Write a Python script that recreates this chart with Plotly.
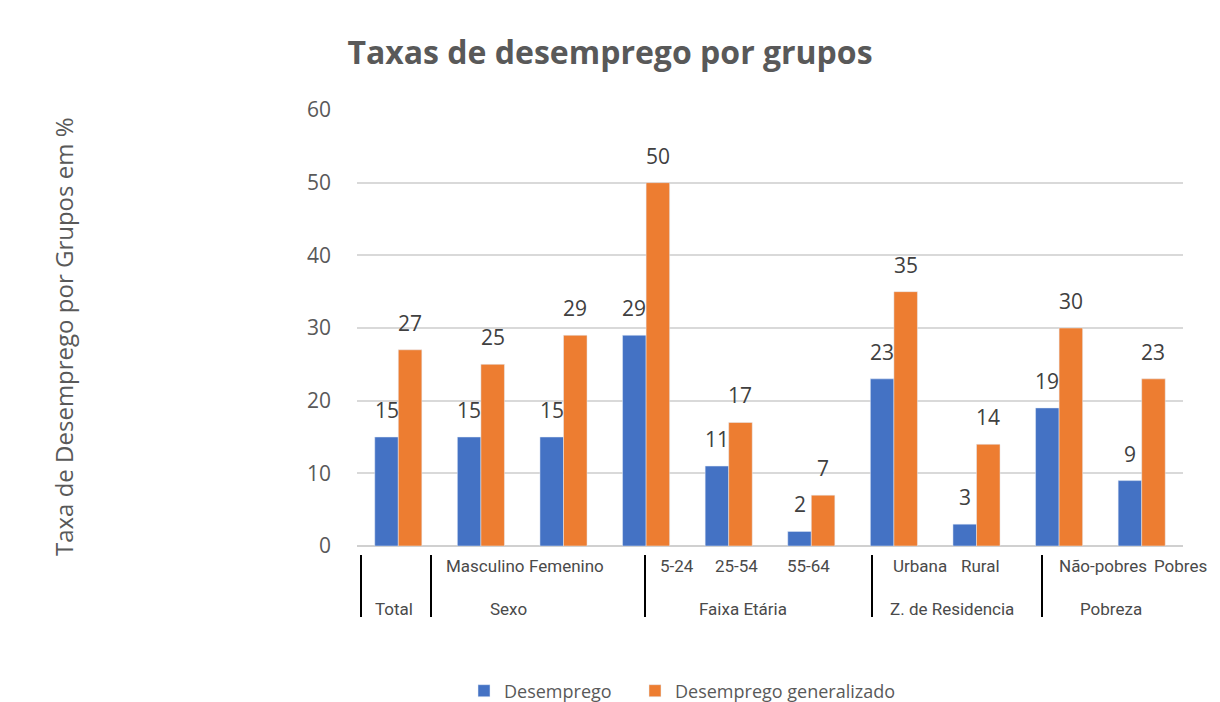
import plotly.graph_objects as go

categorias = ["Total", "Masculino", "Femenino", "5-24", "25-54", "55-64",
              "Urbana", "Rural", "Não-pobres", "Pobres"]
desemprego = [15, 15, 15, 29, 11, 2, 23, 3, 19, 9]
desemprego_generalizado = [27, 25, 29, 50, 17, 7, 35, 14, 30, 23]

# tabela de rótulos por baixo do gráfico (linha de categorias e linha de grupos)
rotulos_linha1 = ["Masculino", "Femenino", "5-24", "25-54", "55-64",
                  "Urbana", "Rural", "Não-pobres", "Pobres"]
rotulos_linha2 = ["Total", "Sexo", "Faixa Etária", "Z. de Residencia", "Pobreza"]

AZUL = "#4472C4"
LARANJA = "#ED7D31"
CINZA = "#595959"

# a página tem 8px de margem no body
FW, FH, OFF = 1212, 702, 8
# geometria do plot em pixels da página
L, R, T, B = 357, 1183, 110, 546
W, H = R - L, B - T


def px(x):
    return (x - L) / W


def py(y):
    return (B - y) / H


fig = go.Figure()
fig.add_trace(go.Bar(x=categorias, y=desemprego, name="Desemprego",
                     marker_color=AZUL, legend="legend", showlegend=True))
fig.add_trace(go.Bar(x=categorias, y=desemprego_generalizado,
                     name="Desemprego generalizado", marker_color=LARANJA,
                     legend="legend2", showlegend=True))

anots = []
# valores por cima das barras
for cat, a, b in zip(categorias, desemprego, desemprego_generalizado):
    for v, dx in ((a, -11.75), (b, 11.75)):
        anots.append(dict(x=cat, y=v, xref="x", yref="y", text=str(v),
                          showarrow=False, xshift=dx, yshift=11,
                          yanchor="bottom",
                          font=dict(size=21, color="#404040", family="Open Sans")))

pos_linha1 = [485, 566, 677, 736, 808, 920, 980, 1103, 1180]
pos_linha2 = [394, 508, 743, 952, 1111]
for txt, x in zip(rotulos_linha1, pos_linha1):
    anots.append(dict(x=px(x), y=py(566), xref="paper", yref="paper", text=txt,
                      showarrow=False, xanchor="center", yanchor="middle",
                      font=dict(size=17, color="#4a4a4a", family="Roboto")))
for txt, x in zip(rotulos_linha2, pos_linha2):
    anots.append(dict(x=px(x), y=py(609), xref="paper", yref="paper", text=txt,
                      showarrow=False, xanchor="center", yanchor="middle",
                      font=dict(size=17, color="#4a4a4a", family="Roboto")))

# título do eixo y
anots.append(dict(x=px(63), y=py(337), xref="paper", yref="paper",
                  text="Taxa de Desemprego por Grupos em %", textangle=-90,
                  showarrow=False, xanchor="center", yanchor="middle",
                  font=dict(size=24, color=CINZA, family="Open Sans")))

shapes = []
for x in [361, 431, 645, 872, 1042]:
    shapes.append(dict(type="line", xref="paper", yref="paper",
                       x0=px(x), x1=px(x), y0=py(555), y1=py(617),
                       line=dict(color="black", width=2)))
# borda clara à direita
shapes.append(dict(type="line", xref="paper", yref="paper",
                   x0=px(1213), x1=px(1213), y0=py(553), y1=py(8),
                   line=dict(color="#E0E0E0", width=2)))

leg_font = dict(size=18, color=CINZA, family="Open Sans")

fig.update_layout(
    width=FW, height=FH, showlegend=True,
    margin=dict(l=L - OFF, r=FW - (R - OFF), t=T - OFF, b=FH - (B - OFF),
                autoexpand=False),
    paper_bgcolor="white", plot_bgcolor="white",
    barmode="group", bargap=0.43, bargroupgap=0,
    title=dict(text="<b>Taxas de desemprego por grupos</b>",
               x=px(610), xref="paper", xanchor="center",
               y=1 - (53 - OFF) / FH, yanchor="middle",
               font=dict(size=32, color=CINZA, family="Open Sans")),
    xaxis=dict(showticklabels=False, showgrid=False, zeroline=False,
               showline=False, ticks=""),
    yaxis=dict(range=[0, 60], dtick=10, gridcolor="#D9D9D9", gridwidth=1.5,
               zeroline=True, zerolinecolor="#D0D0D0", zerolinewidth=2,
               showline=False, ticklabelstandoff=25,
               tickfont=dict(size=21, color=CINZA, family="Open Sans")),
    legend=dict(orientation="h", x=px(464), xanchor="left",
                y=py(691), yanchor="middle", font=leg_font),
    legend2=dict(orientation="h", x=px(635), xanchor="left",
                 y=py(691), yanchor="middle", font=leg_font),
    annotations=anots, shapes=shapes,
)

fig.write_html("out.html")
